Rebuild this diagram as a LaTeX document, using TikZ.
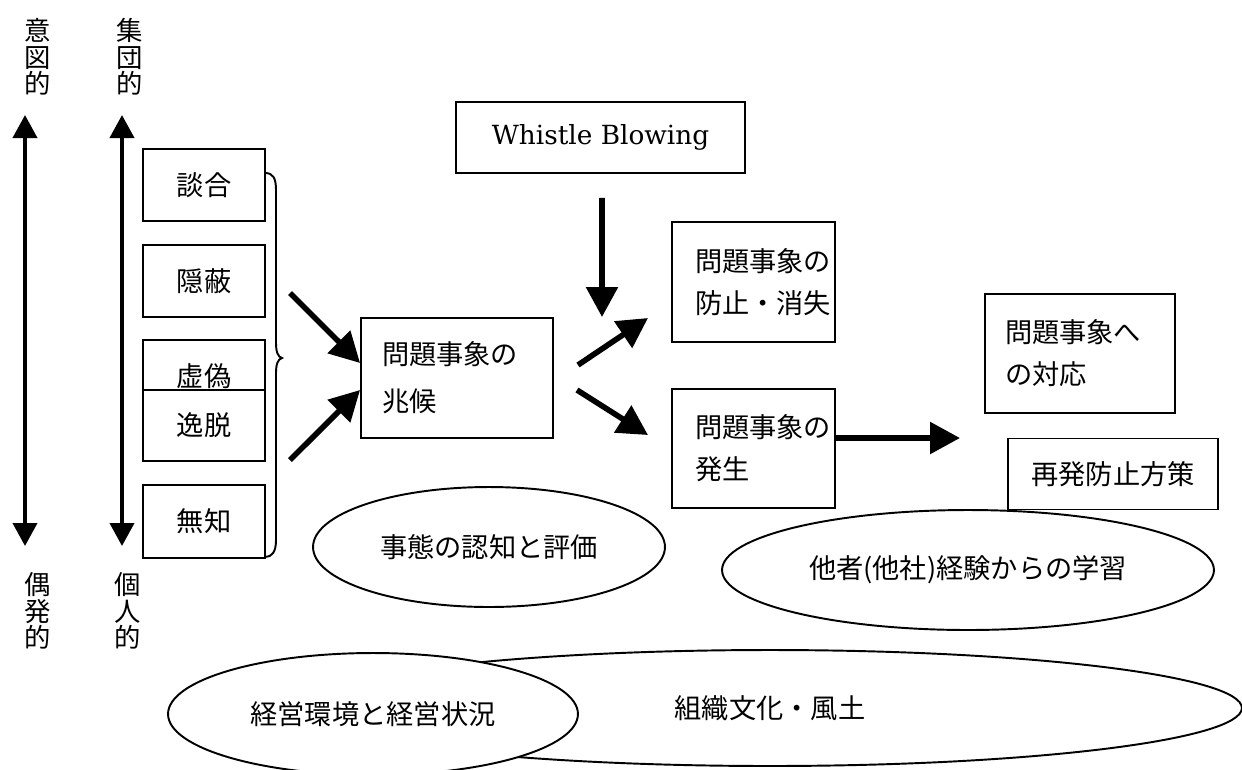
\documentclass[tikz,border=0pt]{standalone}
\usepackage{fontspec}
\newfontfamily\jp{Noto Sans CJK JP}
\newfontfamily\wbfont{DejaVu Serif}
\usetikzlibrary{arrows.meta,shapes.geometric}
\begin{document}
\begin{tikzpicture}[x=0.02cm,y=-0.02cm,
  box/.style={draw,line width=1.1pt,inner sep=0pt,fill=white},
  jtext/.style={font=\jp\fontsize{15.5}{24}\selectfont},
  vlabel/.style={font=\jp\fontsize{15}{15.2}\selectfont,align=center,inner sep=0pt},
  oval/.style={draw,ellipse,line width=1.1pt,inner sep=0pt,fill=white,font=\jp\fontsize{15.5}{24}\selectfont},
  darrow/.style={line width=2.2pt,{Triangle[length=0.46cm,width=0.48cm]}-{Triangle[length=0.46cm,width=0.48cm]}},
  fatarrow/.style={line width=3.2pt,-{Triangle[length=0.6cm,width=0.62cm]}}]
\useasboundingbox (0,0) rectangle (1242,769);
\clip (0,0) rectangle (1242,769);
\fill[white] (0,0) rectangle (1242,769);

% bottom ellipses
\node[oval,minimum width=18.88cm,minimum height=2.32cm] (soshiki) at (770,708) {組織文化・風土};
\node[oval,minimum width=8.2cm,minimum height=2.44cm] (keiei) at (373,714) {経営環境と経営状況};
\node[oval,minimum width=7.04cm,minimum height=2.4cm] (jitai) at (489,547) {事態の認知と評価};
\node[oval,minimum width=9.84cm,minimum height=2.4cm] (tasha) at (968,570) {他者(他社)経験からの学習};

% vertical labels and axes
\node[vlabel] (ito) at (38,57) {意\\図\\的};
\node[vlabel] (shu) at (130,57) {集\\団\\的};
\node[vlabel] (gu) at (38,611) {偶\\発\\的};
\node[vlabel] (ko) at (128,611) {個\\人\\的};
\coordinate (a1t) at (25,115); \coordinate (a1b) at (25,546);
\coordinate (a2t) at (122,115); \coordinate (a2b) at (122,546);
\draw[darrow] (a1t) -- (a1b);
\draw[darrow] (a2t) -- (a2b);

% left boxes
\node[box,jtext,minimum width=2.44cm,minimum height=1.44cm] (dango) at (204,185) {談合};
\node[box,jtext,minimum width=2.44cm,minimum height=1.44cm] (inpei) at (204,281) {隠蔽};
\node[box,jtext,minimum width=2.44cm,minimum height=1.44cm] (kyogi) at (204,376) {虚偽};
\node[box,jtext,minimum width=2.44cm,minimum height=1.42cm] (itsudatsu) at (204,425.5) {逸脱};
\node[box,jtext,minimum width=2.44cm,minimum height=1.46cm] (muchi) at (204,521.5) {無知};

% brace
\draw[line width=1.1pt] (265,173) .. controls (273,173) and (276,178) .. (276,190) -- (276,343)
  .. controls (276,352) and (278,357) .. (282,358)
  .. controls (278,359) and (276,364) .. (276,373) -- (276,540)
  .. controls (276,552) and (272,557) .. (265,557);

% centre boxes
\node[box,font=\wbfont\fontsize{15}{18}\selectfont,minimum width=5.78cm,minimum height=1.42cm] (wb) at (600.5,137.5) {Whistle Blowing};
\node[box,font=\jp\fontsize{15.5}{26.7}\selectfont,align=left,text width=3.0cm,minimum width=3.84cm,minimum height=2.4cm] (k) at (457,378) {問題事象の\\兆候};
\node[box,jtext,align=left,text width=2.34cm,minimum width=3.26cm,minimum height=2.4cm] (p) at (753.5,282) {問題事象の\\防止・消失};
\node[box,jtext,align=left,text width=2.34cm,minimum width=3.26cm,minimum height=2.38cm] (h) at (753.5,448.5) {問題事象の\\発生};
\node[box,jtext,align=left,text width=3.0cm,minimum width=3.8cm,minimum height=2.38cm] (r) at (1080,353.5) {問題事象へ\\の対応};
\node[box,jtext,minimum width=4.2cm,minimum height=1.42cm] (s) at (1113,474) {再発防止方策};

% arrows
\coordinate (in1) at (290,293);
\coordinate (in2) at (290,460);
\draw[fatarrow] (in1) -- ([yshift=0.3cm]k.west);
\draw[fatarrow] (in2) -- ([yshift=-0.24cm]k.west);
\coordinate (o1s) at (578,365); \coordinate (o1e) at (648,318);
\coordinate (o2s) at (577,390); \coordinate (o2e) at (648,435);
\draw[fatarrow] (o1s) -- (o1e);
\draw[fatarrow] (o2s) -- (o2e);
\coordinate (wbe) at (602,317);
\draw[fatarrow] ([xshift=0.03cm,yshift=-0.48cm]wb.south) -- (wbe);
\coordinate (he) at (960,438);
\draw[fatarrow] ([yshift=0.21cm]h.east) -- (he);
\end{tikzpicture}
\end{document}
